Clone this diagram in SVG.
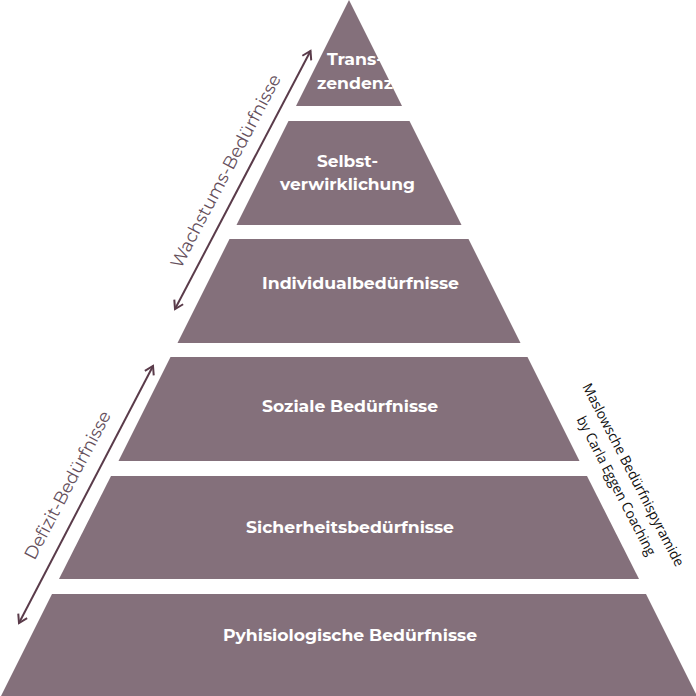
<svg xmlns="http://www.w3.org/2000/svg" width="696" height="696" viewBox="0 0 696 696">
<defs>
<style>
.band{fill:#84707b;}
.lbl{fill:#ffffff;font-family:Montserrat,"Open Sans","Liberation Sans",sans-serif;font-weight:700;font-size:16px;text-anchor:middle;}
.side{fill:#654f5c;font-family:Montserrat,"Open Sans","Liberation Sans",sans-serif;font-weight:400;font-size:18px;text-anchor:middle;}
.cred{fill:#111111;font-family:"Open Sans","Liberation Sans",sans-serif;font-size:14px;text-anchor:middle;}
.arr{stroke:#5a3b4a;stroke-width:2;fill:none;marker-start:url(#ah);marker-end:url(#ah);}
</style>
<marker id="ah" viewBox="0 0 12 12" refX="10" refY="6" markerWidth="12" markerHeight="12" markerUnits="userSpaceOnUse" orient="auto-start-reverse">
<path d="M2,1 L10,6 L2,11" fill="none" stroke="#5a3b4a" stroke-width="2"/>
</marker>
</defs>
<rect width="696" height="696" fill="#ffffff"/>
<g id="level6">
<polygon class="band" points="349,0 402,106 296,106"/>
<text class="lbl" x="355" y="65" textLength="56" lengthAdjust="spacingAndGlyphs">Trans-</text>
<text class="lbl" x="355" y="89" textLength="76" lengthAdjust="spacingAndGlyphs">zendenz</text>
</g>
<g id="level5">
<polygon class="band" points="288.5,121 409.5,121 461.5,225 236.5,225"/>
<text class="lbl" x="347.5" y="167" textLength="61" lengthAdjust="spacingAndGlyphs">Selbst-</text>
<text class="lbl" x="347.5" y="190" textLength="135" lengthAdjust="spacingAndGlyphs">verwirklichung</text>
</g>
<g id="level4">
<polygon class="band" points="229.5,239 468.5,239 520.5,343 177.5,343"/>
<text class="lbl" x="360.5" y="289" textLength="197" lengthAdjust="spacingAndGlyphs">Individualbedürfnisse</text>
</g>
<g id="level3">
<polygon class="band" points="170.5,357 527.5,357 579.5,461 118.5,461"/>
<text class="lbl" x="350" y="412" textLength="176" lengthAdjust="spacingAndGlyphs">Soziale Bedürfnisse</text>
</g>
<g id="level2">
<polygon class="band" points="111,476 587,476 639,579 59,579"/>
<text class="lbl" x="350" y="532.5" textLength="208" lengthAdjust="spacingAndGlyphs">Sicherheitsbedürfnisse</text>
</g>
<g id="level1">
<polygon class="band" points="52,594 646,594 697,696 1,696"/>
<text class="lbl" x="350" y="641" textLength="254" lengthAdjust="spacingAndGlyphs">Pyhisiologische Bedürfnisse</text>
</g>
<g id="connectors">
<line class="arr" x1="175" y1="309" x2="310.5" y2="51"/>
<line class="arr" x1="19" y1="623" x2="153" y2="366"/>
</g>
<g id="labels">
<text class="side" transform="translate(231,174) rotate(-62.2)" textLength="216" lengthAdjust="spacingAndGlyphs">Wachstums-Bedürfnisse</text>
<text class="side" transform="translate(73,488) rotate(-62.2)" textLength="165" lengthAdjust="spacingAndGlyphs">Defizit-Bedürfnisse</text>
<text class="cred" transform="translate(629,477) rotate(62.6)" textLength="204" lengthAdjust="spacingAndGlyphs">Maslowsche Bedürfnispyramide</text>
<text class="cred" transform="translate(612,488) rotate(62.6)" textLength="155" lengthAdjust="spacingAndGlyphs">by Carla Eggen Coaching</text>
</g>
</svg>
